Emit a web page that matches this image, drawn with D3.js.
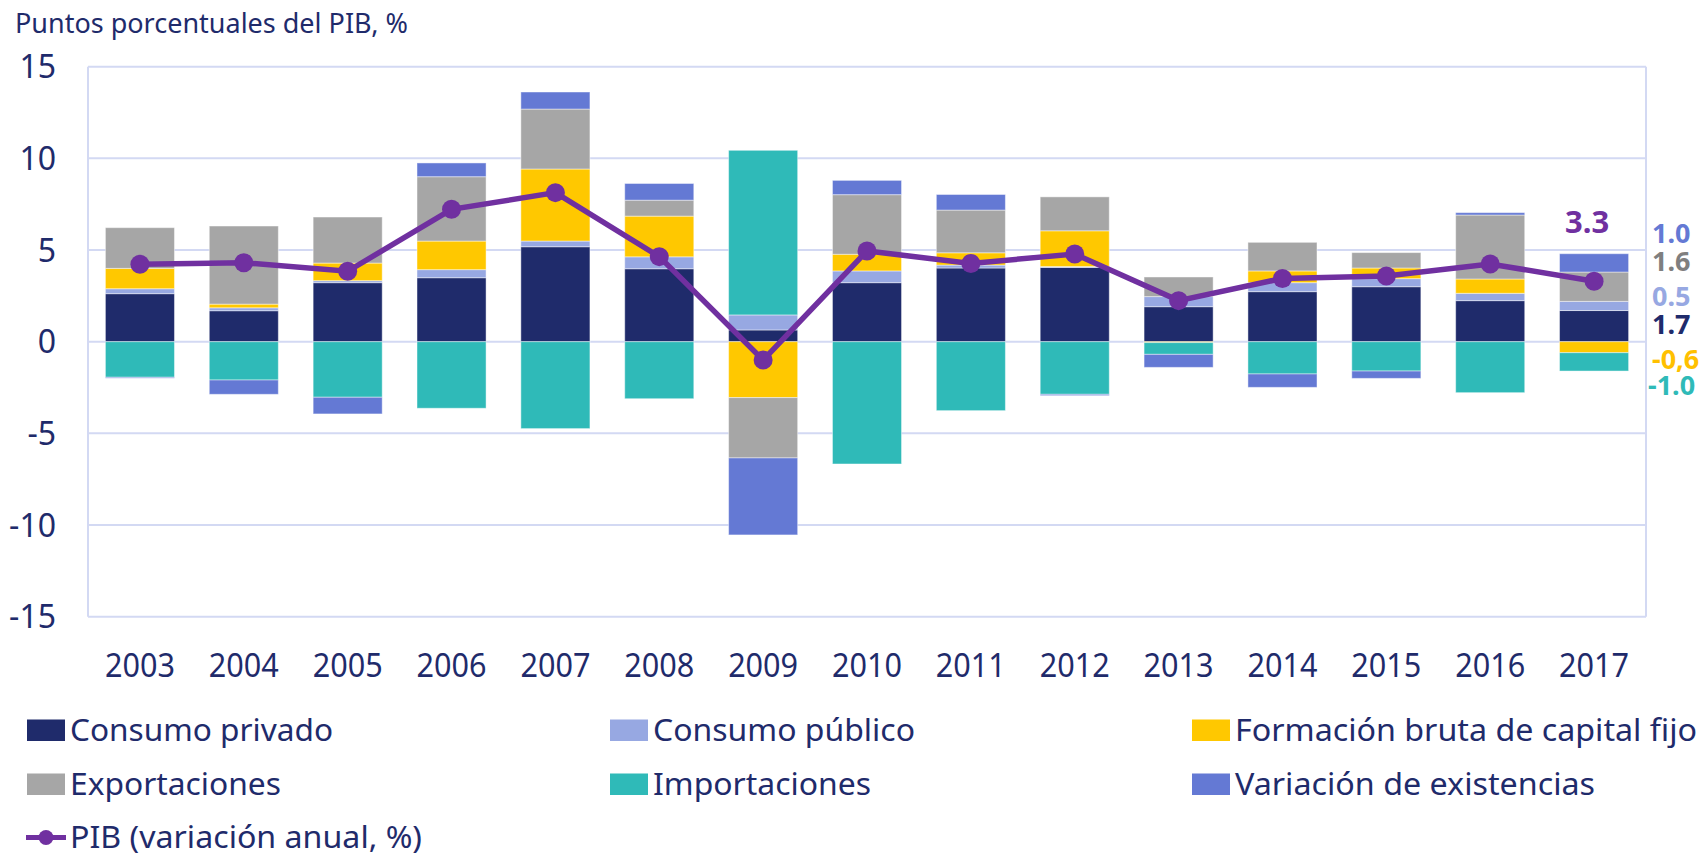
<!DOCTYPE html>
<html>
<head>
  <meta charset="utf-8">
  <title>Contribuciones al crecimiento del PIB</title>
  <script src="https://d3js.org/d3.v7.min.js"></script>
  <style>
  body {
    margin: 0;
    background: #fff;
    font-family: "Noto Sans", "Open Sans", sans-serif;
  }
  .grid line {
    stroke: #d3d9f3;
    stroke-width: 2px;
  }
  .tick-label {
    fill: #1f2b6b;
    font-size: 32px;
  }
  .legend text {
    fill: #1f2b6b;
    font-size: 30px;
  }
  .note {
    font-weight: bold;
    font-size: 27px;
  }
</style>
</head>
<body>
  <div id="chart"></div>
  <script>
    // datos (puntos porcentuales del PIB)
    var years = ["2003", "2004", "2005", "2006", "2007", "2008", "2009", "2010", "2011", "2012", "2013", "2014", "2015", "2016", "2017"];
    var consumoPrivado = [2.62, 1.69, 3.22, 3.49, 5.18, 3.98, 0.64, 3.22, 4.02, 4.05, 1.91, 2.73, 3.00, 2.24, 1.7];
    var consumoPublico = [0.27, 0.16, 0.11, 0.44, 0.31, 0.65, 0.82, 0.64, 0.16, 0.05, 0.55, 0.49, 0.44, 0.40, 0.5];
    var fbcf = [1.11, 0.20, 0.96, 1.56, 3.93, 2.22, -3.05, 0.91, 0.67, 1.95, -0.05, 0.64, 0.58, 0.78, -0.6];
    var exportaciones = [2.22, 4.26, 2.51, 3.51, 3.27, 0.87, -3.29, 3.25, 2.33, 1.85, 1.07, 1.56, 0.84, 3.49, 1.6];
    var importaciones = [-1.94, -2.09, -3.03, -3.63, -4.74, -3.11, 8.98, -6.67, -3.76, -2.87, -0.64, -1.76, -1.60, -2.78, -1.0];
    var varExistencias = [-0.05, -0.78, -0.91, 0.75, 0.93, 0.91, -4.20, 0.78, 0.85, -0.07, -0.71, -0.73, -0.40, 0.13, 1.0];
    var pib = [4.22, 4.31, 3.84, 7.22, 8.13, 4.64, -1.0, 4.95, 4.27, 4.78, 2.24, 3.45, 3.58, 4.24, 3.3];
    var yTicks = [-15, -10, -5, 0, 5, 10, 15];

    var seriesNames = ["Consumo privado", "Consumo público", "Formación bruta de capital fijo", "Exportaciones", "Importaciones", "Variación de existencias"];
    var seriesValues = [consumoPrivado, consumoPublico, fbcf, exportaciones, importaciones, varExistencias];
    var seriesColors = ["#1f2b6b", "#97a8e2", "#ffc800", "#a6a6a6", "#2fbab8", "#6479d4"];
    var pibName = "PIB (variación anual, %)";
    var pibColor = "#7030a0";

    // etiquetas de 2017 a la derecha
    var noteTexts = ["1.0", "1.6", "0.5", "1.7", "-0,6", "-1.0"];
    var noteColors = ["#6479d4", "#7f7f7f", "#97a8e2", "#1f2b6b", "#ffc000", "#2fbab8"];
    var noteAt = [5.94, 4.39, 2.48, 0.99, -0.93, -2.37];

    var width = 1703, height = 858;
    var margin = {left: 88, right: 57, top: 66.7, bottom: 241.3};

    var svg = d3.select("#chart").append("svg")
      .attr("width", width)
      .attr("height", height);

    var x = d3.scaleBand()
      .domain(years)
      .range([margin.left, width - margin.right])
      .paddingInner(0.335)
      .paddingOuter(0.1675);

    var y = d3.scaleLinear()
      .domain([-15, 15])
      .range([height - margin.bottom, margin.top]);

    // tabla para d3.stack
    var table = years.map(function(yr, i) {
      var row = {year: yr};
      seriesNames.forEach(function(n, k) { row[n] = seriesValues[k][i]; });
      return row;
    });

    var stack = d3.stack()
      .keys(seriesNames)
      .offset(d3.stackOffsetDiverging);
    var layers = stack(table);

    // rejilla
    svg.append("g").attr("class", "grid")
      .selectAll("line")
      .data(yTicks)
      .enter().append("line")
      .attr("x1", margin.left)
      .attr("x2", width - margin.right)
      .attr("y1", function(d) { return y(d); })
      .attr("y2", function(d) { return y(d); });

    svg.append("g").attr("class", "grid")
      .selectAll("line")
      .data([margin.left, width - margin.right])
      .enter().append("line")
      .attr("x1", function(d) { return d; })
      .attr("x2", function(d) { return d; })
      .attr("y1", y(15))
      .attr("y2", y(-15));

    // barras apiladas
    svg.append("g")
      .selectAll("g")
      .data(layers)
      .enter().append("g")
      .attr("fill", function(d, i) { return seriesColors[i]; })
      .selectAll("rect")
      .data(function(d) { return d; })
      .enter().append("rect")
      .attr("x", function(d) { return x(d.data.year); })
      .attr("width", x.bandwidth())
      .attr("y", function(d) { return y(Math.max(d[0], d[1])); })
      .attr("height", function(d) { return Math.abs(y(d[0]) - y(d[1])); })
      .attr("stroke", "rgba(255,255,255,0.45)")
      .attr("stroke-width", 1);

    // linea del PIB
    var line = d3.line()
      .x(function(d, i) { return x(years[i]) + x.bandwidth() / 2; })
      .y(function(d) { return y(d); });

    svg.append("path")
      .datum(pib)
      .attr("d", line)
      .attr("fill", "none")
      .attr("stroke", pibColor)
      .attr("stroke-width", 5.5);

    svg.append("g")
      .selectAll("circle")
      .data(pib)
      .enter().append("circle")
      .attr("cx", function(d, i) { return x(years[i]) + x.bandwidth() / 2; })
      .attr("cy", function(d) { return y(d); })
      .attr("r", 9.5)
      .attr("fill", pibColor);

    // ejes
    svg.append("g")
      .selectAll("text")
      .data(yTicks)
      .enter().append("text")
      .attr("class", "tick-label")
      .attr("x", 56)
      .attr("y", function(d) { return y(d) + 11.5; })
      .attr("text-anchor", "end")
      .text(function(d) { return d; });

    svg.append("g")
      .selectAll("text")
      .data(years)
      .enter().append("text")
      .attr("class", "tick-label")
      .attr("x", function(d) { return x(d) + x.bandwidth() / 2; })
      .attr("y", 677)
      .attr("text-anchor", "middle")
      .attr("textLength", 70)
      .attr("lengthAdjust", "spacingAndGlyphs")
      .text(function(d) { return d; });

    // titulo del eje
    svg.append("text")
      .attr("x", 15)
      .attr("y", 33)
      .attr("fill", "#1f2b6b")
      .style("font-size", "28px")
      .attr("textLength", 393)
      .attr("lengthAdjust", "spacingAndGlyphs")
      .text("Puntos porcentuales del PIB, %");

    // valor del PIB 2017
    var last = years.length - 1;
    svg.append("text")
      .attr("class", "note")
      .attr("x", x(years[last]) + x.bandwidth() / 2 - 7)
      .attr("y", 233)
      .attr("text-anchor", "middle")
      .attr("fill", pibColor)
      .style("font-size", "31px")
      .text(pib[last].toFixed(1));

    svg.append("g")
      .selectAll("text")
      .data(noteTexts)
      .enter().append("text")
      .attr("class", "note")
      .attr("x", function(d, i) { return d === "-1.0" ? width - margin.right + 2 : width - margin.right + 6; })
      .attr("y", function(d, i) { return y(noteAt[i]) + 10; })
      .attr("fill", function(d, i) { return noteColors[i]; })
      .text(function(d) { return d; });

    // leyenda
    var legendCols = [27, 610, 1192];
    var legendRows = [741, 795, 848];
    var legendWidths = [263, 262, 462, 211, 218, 360];

    var legend = svg.append("g").attr("class", "legend");
    seriesNames.forEach(function(name, k) {
      var lx = legendCols[k % 3], ly = legendRows[Math.floor(k / 3)];
      legend.append("rect")
        .attr("x", lx)
        .attr("y", ly - 21.5)
        .attr("width", 38)
        .attr("height", 21.5)
        .attr("fill", seriesColors[k]);
      legend.append("text")
        .attr("x", lx + 43)
        .attr("y", ly)
        .attr("textLength", legendWidths[k])
        .attr("lengthAdjust", "spacingAndGlyphs")
        .text(name);
    });

    legend.append("line")
      .attr("x1", 26).attr("x2", 66)
      .attr("y1", legendRows[2] - 10.5).attr("y2", legendRows[2] - 10.5)
      .attr("stroke", pibColor)
      .attr("stroke-width", 5);
    legend.append("circle")
      .attr("cx", 46)
      .attr("cy", legendRows[2] - 10.5)
      .attr("r", 7.5)
      .attr("fill", pibColor);
    legend.append("text")
      .attr("x", 70)
      .attr("y", legendRows[2])
      .attr("textLength", 352)
      .attr("lengthAdjust", "spacingAndGlyphs")
      .text(pibName);
  </script>
</body>
</html>
